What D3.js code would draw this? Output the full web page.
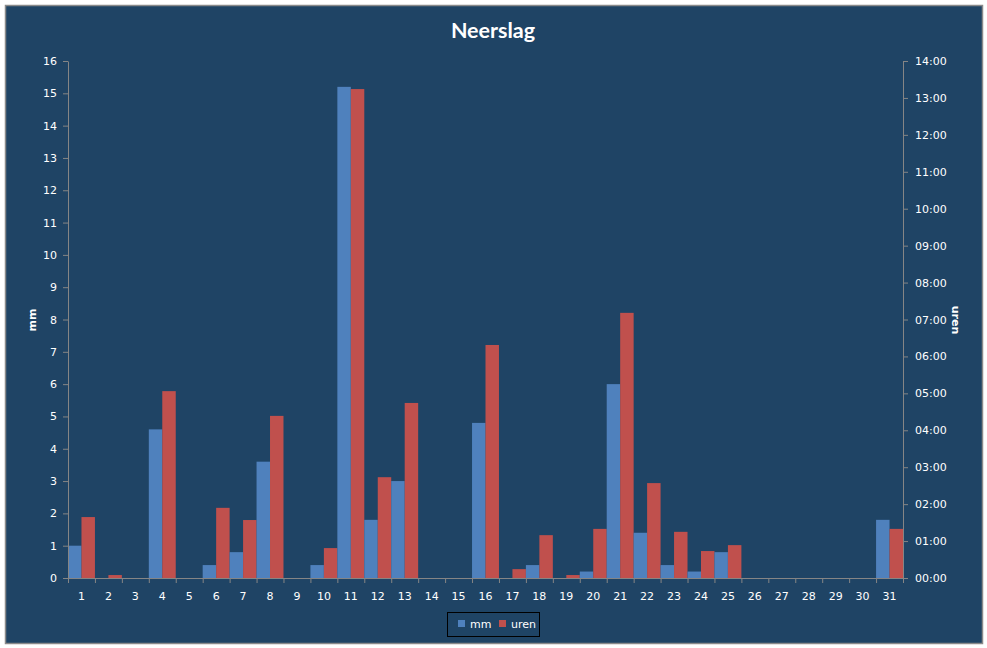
<!DOCTYPE html>
<html>
<head>
<meta charset="utf-8">
<script src="https://cdn.jsdelivr.net/npm/d3@7"></script>
<style>
  body { margin: 0; background: #ffffff; }
  text { font-family: "DejaVu Sans", Verdana, sans-serif; }
</style>
</head>
<body>
<div id="chart"></div>
<script>
// Days of the month
const days = ['1','2','3','4','5','6','7','8','9','10','11','12','13','14','15','16',
  '17','18','19','20','21','22','23','24','25','26','27','28','29','30','31'];

// Rain amount in mm (left axis)
const mm = [1.0, 0, 0, 4.6, 0, 0.4, 0.8, 3.6, 0, 0.4, 15.2, 1.8, 3.0, 0, 0, 4.8,
  0, 0.4, 0, 0.2, 6.0, 1.4, 0.4, 0.2, 0.8, 0, 0, 0, 0, 0, 1.8];

// Rain duration in hours (right axis)
const uren = [1.65, 0.08, 0, 5.06, 0, 1.9, 1.57, 4.39, 0, 0.81, 13.24, 2.73, 4.74, 0, 0, 6.31,
  0.24, 1.16, 0.08, 1.33, 7.18, 2.57, 1.25, 0.73, 0.89, 0, 0, 0, 0, 0, 1.33];

const seriesNames = ['mm', 'uren'];
const seriesColors = ['#4f81bd', '#c0504d'];
const mmTicks = d3.range(0, 17);
const urenTicks = d3.range(0, 15);

const width = 987;
const height = 648;
const plot = { left: 68, right: 903, top: 61, bottom: 578 };
const axisColor = '#858585';

const svg = d3.select('#chart')
  .append('svg')
  .attr('width', width)
  .attr('height', height);

// Chart frame
svg.append('rect')
  .attr('x', 5.5)
  .attr('y', 5.5)
  .attr('width', 977)
  .attr('height', 638)
  .attr('fill', '#1f4465')
  .attr('stroke', '#8a8a8a')
  .attr('stroke-width', 1.5);

// Title
svg.append('text')
  .attr('x', 493)
  .attr('y', 38)
  .attr('text-anchor', 'middle')
  .style('font-family', 'Lato, "Open Sans", sans-serif')
  .style('font-weight', 'bold')
  .style('font-size', '21.5px')
  .attr('fill', '#ffffff')
  .text('Neerslag');

// Scales
const x = d3.scaleBand()
  .domain(days)
  .range([plot.left, plot.right])
  .padding(0);

const x1 = d3.scaleBand()
  .domain(seriesNames)
  .range([0, x.bandwidth()])
  .padding(0);

const yLeft = d3.scaleLinear()
  .domain([0, 16])
  .range([plot.bottom, plot.top]);

const yRight = d3.scaleLinear()
  .domain([0, 14])
  .range([plot.bottom, plot.top]);

// Bars
const rows = days.map((d, i) => ({ day: d, mm: mm[i], uren: uren[i] }));

const groups = svg.selectAll('.day')
  .data(rows)
  .enter().append('g')
  .attr('class', 'day')
  .attr('transform', d => `translate(${x(d.day)},0)`);

groups.append('rect')
  .attr('x', x1('mm'))
  .attr('y', d => yLeft(d.mm))
  .attr('width', x1.bandwidth())
  .attr('height', d => yLeft(0) - yLeft(d.mm))
  .attr('fill', seriesColors[0]);

groups.append('rect')
  .attr('x', x1('uren'))
  .attr('y', d => yRight(d.uren))
  .attr('width', x1.bandwidth())
  .attr('height', d => yRight(0) - yRight(d.uren))
  .attr('fill', seriesColors[1]);

// Style helper for axes
function styleAxis(g) {
  g.selectAll('path, line').attr('stroke', axisColor);
  g.selectAll('text')
    .attr('fill', '#ffffff')
    .style('font-family', '"DejaVu Sans", Verdana, sans-serif')
    .style('font-size', '11px');
}

// Left axis
svg.append('g')
  .attr('transform', `translate(${plot.left},0)`)
  .call(d3.axisLeft(yLeft).tickValues(mmTicks).tickSize(5).tickSizeOuter(0).tickPadding(6))
  .call(styleAxis);

// Right axis
svg.append('g')
  .attr('transform', `translate(${plot.right},0)`)
  .call(d3.axisRight(yRight)
    .tickValues(urenTicks)
    .tickSize(5)
    .tickSizeOuter(0)
    .tickPadding(7)
    .tickFormat(d => String(d).padStart(2, '0') + ':00'))
  .call(styleAxis);

// Bottom axis: tick marks on category boundaries
const xEdges = d3.scaleLinear()
  .domain([0, days.length])
  .range([plot.left, plot.right]);

svg.append('g')
  .attr('transform', `translate(0,${plot.bottom})`)
  .call(d3.axisBottom(xEdges).tickValues(d3.range(0, days.length + 1)).tickFormat('').tickSize(5).tickSizeOuter(0))
  .call(styleAxis);

// Bottom axis labels centred in each category
svg.append('g')
  .attr('transform', `translate(0,${plot.bottom})`)
  .call(d3.axisBottom(x).tickSize(0).tickPadding(14))
  .call(g => g.select('.domain').remove())
  .call(styleAxis);

// Axis titles
svg.append('text')
  .attr('transform', 'translate(36,320) rotate(-90)')
  .attr('text-anchor', 'middle')
  .attr('fill', '#ffffff')
  .style('font-size', '11px')
  .style('font-weight', 'bold')
  .text('mm');

svg.append('text')
  .attr('transform', 'translate(952,320) rotate(90)')
  .attr('text-anchor', 'middle')
  .attr('fill', '#ffffff')
  .style('font-size', '11px')
  .style('font-weight', 'bold')
  .text('uren');

// Legend
const legend = svg.append('g').attr('transform', 'translate(447,612)');

legend.append('rect')
  .attr('x', 0.5)
  .attr('y', 0.5)
  .attr('width', 92)
  .attr('height', 24)
  .attr('fill', 'none')
  .attr('stroke', '#000000')
  .attr('stroke-width', 1);

const legendX = [11, 52];
seriesNames.forEach((name, i) => {
  legend.append('rect')
    .attr('x', legendX[i])
    .attr('y', 8)
    .attr('width', 7)
    .attr('height', 7)
    .attr('fill', seriesColors[i]);
  legend.append('text')
    .attr('x', legendX[i] + 12)
    .attr('y', 16)
    .attr('fill', '#ffffff')
    .style('font-size', '11px')
    .text(name);
});
</script>
</body>
</html>
